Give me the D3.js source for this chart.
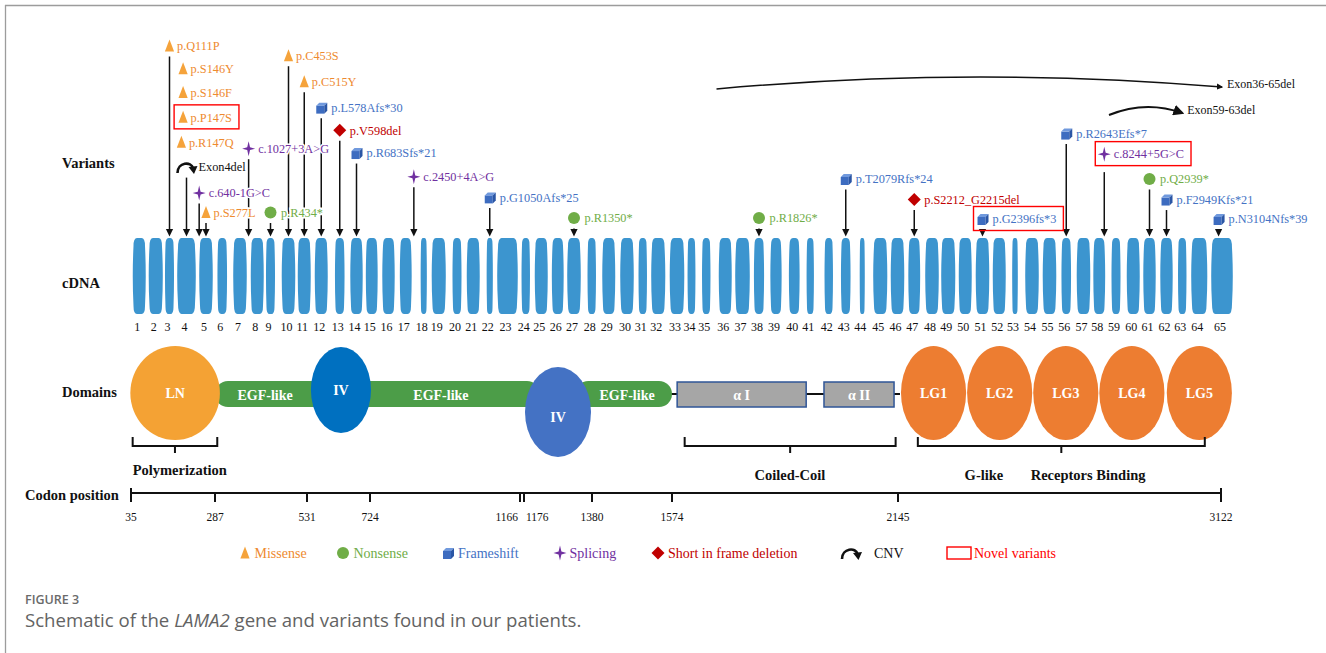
<!DOCTYPE html>
<html><head><meta charset="utf-8">
<script src="https://cdn.jsdelivr.net/npm/d3@7"></script>
<style>html,body{margin:0;padding:0;background:#fff;}svg{display:block;}</style>
</head><body>
<svg id="chart" width="1326" height="653"></svg>
<script>
// ================= DATA =================
const exonNumbers = d3.range(1, 66);
// exon extents in drawing units along the cDNA (0..1100)
const exonStart = [0.5,16.5,32.5,45,67,85,101,118.5,133.5,149.5,165.5,182.5,202.5,218,233.5,250,267.5,288,299.5,320,334.5,354,365,389,402.5,419.5,435,455,470,488,506,519,537.5,555,569.5,586.5,603,621.5,638,656.5,674,692,708.5,727,741,758.5,776,793,809,826.5,843.5,860.5,879.5,893,910.5,929,944.5,961,979,994.5,1011,1028,1045.5,1059,1079];
const exonEnd   = [12,29,40.5,62,79,93.5,113,130,141.5,161.5,177,194,211,229,244,261,278,293.5,312,328,346,359.5,384,396.5,414,430,447,462.5,481.5,500,513.5,531.5,550.5,562,577,598,616,630.5,648,666,680.5,699.5,717,731.5,753.5,770.5,786.5,805,821.5,838,855.5,872,884.5,905,922.5,937.5,956.5,971.5,987,1006,1022,1039,1053,1073.5,1099];

// variants: label, type, exon position (fractional = intronic), stacking tier, novel flag, own arrow
const variantLabels = ["p.Q111P","p.S146Y","p.S146F","p.P147S","p.R147Q","Exon4del","c.640-1G>C","p.S277L","c.1027+3A>G","p.R434*","p.C453S","p.C515Y","p.L578Afs*30","p.V598del","p.R683Sfs*21","c.2450+4A>G","p.G1050Afs*25","p.R1350*","p.R1826*","p.T2079Rfs*24","p.S2212_G2215del","p.G2396fs*3","p.R2643Efs*7","c.8244+5G>C","p.Q2939*","p.F2949Kfs*21","p.N3104Nfs*39"];
const variantTypes = ["missense","missense","missense","missense","missense","cnv","splicing","missense","splicing","nonsense","missense","missense","frameshift","deletion","frameshift","splicing","frameshift","nonsense","nonsense","frameshift","deletion","frameshift","frameshift","splicing","nonsense","frameshift","frameshift"];
const variantExon = [3,3.8,3.8,3.8,3.7,4,4.65,5,7.5,9,10,11,12,13,14,17.45,22,27,38,43,47,51,56,58.3,61,62,64.85];
const variantTier = [0,2.1,4.3,6.6,8.9,11.2,13.6,15.4,9.5,15.4,0.9,3.3,5.7,7.8,9.9,12.1,14.0,15.9,15.9,12.3,14.2,16.0,8.1,10.0,12.3,14.2,16.0];
const variantNovel = [0,0,0,1,0,0,0,0,0,0,0,0,0,0,0,0,0,0,0,0,0,1,0,1,0,0,0];
const variantArrow = [1,0,0,0,0,1,1,1,1,1,1,1,1,1,1,1,1,1,1,1,1,1,1,1,1,1,1];

// large CNVs
const cnvLabels = ["Exon36-65del","Exon59-63del"];
const cnvFrom = [36,59];
const cnvTo = [65,63];

// codon positions (axis ticks)
const codonTicks = [35,287,531,724,1166,1176,1380,1574,2145,3122];

// protein domains (codon extents)
const domains = [
  {name:"EGF-like", shape:"bar",     from:287,  to:600,  label:420},
  {name:"EGF-like", shape:"bar",     from:680,  to:1224, label:933},
  {name:"EGF-like", shape:"bar",     from:1330, to:1574, label:1465},
  {name:"LN",       shape:"ellipse", from:33,   to:300},
  {name:"IV",       shape:"ellipse", from:543,  to:727},
  {name:"IV",       shape:"ellipse", from:1179, to:1377, low:true},
  {name:"α I",      shape:"box",     from:1587, to:1913},
  {name:"α II",     shape:"box",     from:1958, to:2135},
  {name:"LG1",      shape:"ellipse", from:2154, to:2351},
  {name:"LG2",      shape:"ellipse", from:2354, to:2551},
  {name:"LG3",      shape:"ellipse", from:2554, to:2751},
  {name:"LG4",      shape:"ellipse", from:2754, to:2951},
  {name:"LG5",      shape:"ellipse", from:2958, to:3155}
];
const brackets = [
  {from:40, to:293, labels:[{text:"Polymerization", at:40, anchor:"start"}]},
  {from:1606, to:2139, labels:[{text:"Coiled-Coil", at:1872, anchor:"middle"}]},
  {from:2205, to:3073, labels:[{text:"G-like", at:2405, anchor:"middle"},{text:"Receptors Binding", at:2720, anchor:"middle"}]}
];

const legendLabels = ["Missense","Nonsense","Frameshift","Splicing","Short in frame deletion","CNV","Novel variants"];
const legendTypes = ["missense","nonsense","frameshift","splicing","deletion","cnv","novel"];

// ================= STYLE / LAYOUT =================
const SERIF = "'Liberation Serif','Times New Roman',serif";
const textColor = {missense:"#ee8a2f", nonsense:"#70ad47", frameshift:"#4472c4", splicing:"#7030a0", deletion:"#c00000", cnv:"#111", novel:"#ff0000"};
const textGap = {missense:7.5, nonsense:10.5, frameshift:10, splicing:9.5, deletion:10, cnv:12, novel:16};
const EX_TOP = 238, EX_BOT = 314;

const svg = d3.select("#chart");

// frame
svg.append("line").attr("x1",5.5).attr("y1",5).attr("x2",5.5).attr("y2",653).attr("stroke","#9c9c9c").attr("stroke-width",1.3);
svg.append("line").attr("x1",5).attr("y1",5.5).attr("x2",1326).attr("y2",5.5).attr("stroke","#9c9c9c").attr("stroke-width",1.3);

// scales
const xg = d3.scaleLinear().domain([0,1100]).range([133,1233]);
const yTier = d3.scaleLinear().domain([0,16]).range([46,219]);
const codon = d3.scaleLinear().domain(codonTicks).range([131,215,307,370,520,524,592,672,898,1221]);
const exonCenter = i => xg((exonStart[i-1]+exonEnd[i-1])/2);
const posAt = e => { const i=Math.floor(e), f=e-i; const c=exonCenter(i); return f ? c + f*(exonCenter(i+1)-c) : c; };

// row titles
const titles = [["Variants",62,168],["cDNA",62,288],["Domains",62,397],["Codon position",25,500]];
svg.selectAll("text.title").data(titles).enter().append("text")
  .attr("x",d=>d[1]).attr("y",d=>d[2]).text(d=>d[0])
  .attr("font-family",SERIF).attr("font-weight","bold").attr("font-size",14.5).attr("fill","#111");

// ---------- exons ----------
function exonPath(x0,x1,t,b){
  const w=x1-x0, c=Math.min(3.5,w/2.6), k=Math.min(10,4+w*0.35), bl=Math.min(1.6,w*0.13), m=(t+b)/2;
  return `M${x0+c},${t} L${x1-c},${t} Q${x1},${t} ${x1},${t+k} Q${x1+bl},${m} ${x1},${b-k} Q${x1},${b} ${x1-c},${b} L${x0+c},${b} Q${x0},${b} ${x0},${b-k} Q${x0-bl},${m} ${x0},${t+k} Q${x0},${t} ${x0+c},${t} Z`;
}
const gEx = svg.append("g");
gEx.selectAll("path").data(exonNumbers).enter().append("path")
  .attr("d",n=>exonPath(xg(exonStart[n-1]),xg(exonEnd[n-1]),EX_TOP,EX_BOT))
  .attr("fill","#3c95cf");
gEx.selectAll("text").data(exonNumbers).enter().append("text")
  .attr("x",n=>exonCenter(n)-2).attr("y",331).attr("text-anchor","middle")
  .attr("font-family",SERIF).attr("font-size",12).attr("fill","#111").text(n=>n);

// ---------- icons ----------
function drawIcon(g,type,x,y){
  if(type==="missense"){
    g.append("path").attr("d",`M${x},${y-6.5} L${x+4.6},${y+5.5} L${x-4.6},${y+5.5} Z`).attr("fill","#f5a33b");
  } else if(type==="nonsense"){
    g.append("circle").attr("cx",x).attr("cy",y).attr("r",6).attr("fill","#70ad47");
  } else if(type==="frameshift"){
    g.append("path").attr("d",`M${x-5},${y-2} h8 v8 h-8 Z`).attr("fill","#3d6cc0");
    g.append("path").attr("d",`M${x-5},${y-2} l3,-3 h8 l-3,3 Z`).attr("fill","#7099dd");
    g.append("path").attr("d",`M${x+3},${y-2} l3,-3 v8 l-3,3 Z`).attr("fill","#2b56a5");
  } else if(type==="splicing"){
    g.append("path").attr("d",`M${x},${y-7.5} L${x+1.4},${y-1.4} L${x+6.5},${y} L${x+1.4},${y+1.4} L${x},${y+7.5} L${x-1.4},${y+1.4} L${x-6.5},${y} L${x-1.4},${y-1.4} Z`).attr("fill","#7030a0");
  } else if(type==="deletion"){
    g.append("path").attr("d",`M${x},${y-6.5} L${x+6.5},${y} L${x},${y+6.5} L${x-6.5},${y} Z`).attr("fill","#c00000");
  } else if(type==="cnv"){
    g.append("path").attr("d",`M${x-9},${y+6} C${x-9},${y-5} ${x+5},${y-6} ${x+6.5},${y+1}`).attr("fill","none").attr("stroke","#111").attr("stroke-width",2.6);
    g.append("path").attr("d",`M${x+2},${y} L${x+11},${y-1} L${x+7.5},${y+7} Z`).attr("fill","#111");
  } else if(type==="novel"){
    g.append("rect").attr("x",x-11).attr("y",y-6).attr("width",24).attr("height",12).attr("fill","none").attr("stroke","#ff0000").attr("stroke-width",1.4);
  }
}

// ---------- variants ----------
const variants = variantLabels.map((label,i)=>({label, type:variantTypes[i], exon:variantExon[i], tier:variantTier[i], novel:!!variantNovel[i], arrow:!!variantArrow[i]}));
const gArrows = svg.append("g"), gVar = svg.append("g");
variants.forEach(v=>{
  const x = posAt(v.exon), y = yTier(v.tier);
  if(v.arrow){
    const y1 = y + (v.novel ? 18 : 10.5);
    if(y1 < 230) gArrows.append("line").attr("x1",x).attr("x2",x).attr("y1",y1).attr("y2",231).attr("stroke","#111").attr("stroke-width",1.5);
    gArrows.append("path").attr("d",`M${x-3.6},${229} L${x+3.6},${229} L${x},${236.5} Z`).attr("fill","#111");
  }
  const g = gVar.append("g");
  drawIcon(g,v.type,x,y);
  const t = g.append("text").attr("x",x+textGap[v.type]).attr("y",y+4.3).text(v.label)
    .attr("font-family",SERIF).attr("font-size",12.3).attr("fill",textColor[v.type])
    .attr("stroke","#fff").attr("stroke-width",3).attr("paint-order","stroke");
  if(v.novel){
    const w = t.node().getComputedTextLength();
    g.append("rect").attr("x",x-9).attr("y",y-12.5).attr("width",textGap[v.type]+w+16).attr("height",24)
      .attr("fill","none").attr("stroke","#ff0000").attr("stroke-width",1.4);
  }
});

// large CNV arcs
const defs = svg.append("defs");
[["ah1",4],["ah2",5.5]].forEach(([id,s])=>{
  defs.append("marker").attr("id",id).attr("viewBox","0 0 10 10").attr("refX",8).attr("refY",5)
    .attr("markerWidth",s).attr("markerHeight",s).attr("orient","auto")
    .append("path").attr("d","M0,0 L10,5 L0,10 Z").attr("fill","#111");
});
const arcRise = [22,14];
const arcBase = [88,114];
cnvLabels.forEach((lab,i)=>{
  const xs = xg(exonStart[cnvFrom[i]-1]) - 3, xe = exonCenter(cnvTo[i]);
  const ys = arcBase[i]+1, ye = arcBase[i]-1;
  svg.append("path").attr("d",`M${xs},${ys} Q${(xs+xe)/2},${arcBase[i]-arcRise[i]} ${xe},${ye}`)
    .attr("fill","none").attr("stroke","#111").attr("stroke-width",i?2:1.6).attr("marker-end",`url(#ah${i+1})`);
  svg.append("text").attr("x",xe+5).attr("y",ye+1).text(lab)
    .attr("font-family",SERIF).attr("font-size",12).attr("fill","#111");
});

// ---------- domains ----------
const DY = 394;
const gDom = svg.append("g");
gDom.append("line").attr("x1",codon(1574)-2).attr("x2",codon(2151)).attr("y1",DY).attr("y2",DY).attr("stroke","#111").attr("stroke-width",2);
const fillOf = d => d.name==="LN" ? "#f4a234" : d.name==="IV" ? (d.low ? "#4472c4" : "#0070c0") : d.name.startsWith("LG") ? "#ed7d31" : d.name==="EGF-like" ? "#4c9d48" : "#a6a6a6";
domains.filter(d=>d.shape==="bar").forEach(d=>{
  gDom.append("rect").attr("x",codon(d.from)).attr("y",DY-13).attr("width",codon(d.to)-codon(d.from)).attr("height",26)
    .attr("rx",13).attr("fill",fillOf(d));
});
domains.filter(d=>d.shape==="ellipse").forEach(d=>{
  const cx=(codon(d.from)+codon(d.to))/2, rx=(codon(d.to)-codon(d.from))/2;
  const ry = d.name==="IV" ? (d.low ? 45 : 43) : 47;
  const cy = d.name==="IV" ? (d.low ? 412 : 390) : 393;
  gDom.append("ellipse").attr("cx",cx).attr("cy",cy).attr("rx",rx).attr("ry",ry).attr("fill",fillOf(d));
  gDom.append("text").attr("x",cx).attr("y",cy+ (d.low?10:4.5)).attr("text-anchor","middle").text(d.name)
    .attr("font-family",SERIF).attr("font-weight","bold").attr("font-size",14).attr("fill","#fff");
});
domains.filter(d=>d.shape==="box").forEach(d=>{
  gDom.append("rect").attr("x",codon(d.from)).attr("y",DY-12).attr("width",codon(d.to)-codon(d.from)).attr("height",25)
    .attr("fill","#a6a6a6").attr("stroke","#2f5597").attr("stroke-width",1.5);
  gDom.append("text").attr("x",(codon(d.from)+codon(d.to))/2).attr("y",DY+5.5).attr("text-anchor","middle").text(d.name)
    .attr("font-family",SERIF).attr("font-weight","bold").attr("font-size",14).attr("fill","#fff");
});
domains.filter(d=>d.shape==="bar").forEach(d=>{
  gDom.append("text").attr("x",codon(d.label)).attr("y",DY+5.5).attr("text-anchor","middle").text(d.name)
    .attr("font-family",SERIF).attr("font-weight","bold").attr("font-size",14).attr("fill","#fff");
});

// brackets
brackets.forEach(b=>{
  const x0=codon(b.from), x1=codon(b.to), xc=(x0+x1)/2;
  gDom.append("path").attr("d",`M${x0},437 V446 H${x1} V437 M${xc},446 V453`)
    .attr("fill","none").attr("stroke","#111").attr("stroke-width",2);
  b.labels.forEach(l=>{
    gDom.append("text").attr("x",codon(l.at)).attr("y",b.from<100?475:480).attr("text-anchor",l.anchor).text(l.text)
      .attr("font-family",SERIF).attr("font-weight","bold").attr("font-size",14.5).attr("fill","#111");
  });
});

// ---------- codon axis ----------
const AY = 493;
const gAx = svg.append("g");
gAx.append("line").attr("x1",codon(35)).attr("x2",codon(3122)).attr("y1",AY).attr("y2",AY).attr("stroke","#111").attr("stroke-width",2.2);
codonTicks.forEach((c,i)=>{
  const end = i===0 || i===codonTicks.length-1;
  gAx.append("line").attr("x1",codon(c)).attr("x2",codon(c)).attr("y1",end?488:AY).attr("y2",502).attr("stroke","#111").attr("stroke-width",2);
  const anchor = c===1166 ? "end" : c===1176 ? "start" : "middle";
  const dx = c===1166 ? -2 : c===1176 ? 2 : 0;
  gAx.append("text").attr("x",codon(c)+dx).attr("y",521).attr("text-anchor",anchor).text(c)
    .attr("font-family",SERIF).attr("font-size",11.5).attr("fill","#111");
});

// ---------- legend ----------
const legendX = [245,343,448,560,658,851,958];
const LY = 553;
legendLabels.forEach((lab,i)=>{
  const g = svg.append("g");
  const type = legendTypes[i];
  drawIcon(g,type,legendX[i],LY);
  g.append("text").attr("x",legendX[i]+textGap[type]+ (type==="cnv"?11:type==="missense"?2:0)).attr("y",LY+4.5).text(lab)
    .attr("font-family",SERIF).attr("font-size",14).attr("fill",textColor[type]);
});

// ---------- caption ----------
svg.append("text").attr("x",25).attr("y",604).text("FIGURE 3")
  .attr("font-family","'Open Sans',sans-serif").attr("font-weight",600).attr("font-size",12.5).attr("fill","#6a6a6a");
const cap = svg.append("text").attr("x",25).attr("y",627)
  .attr("font-family","'Open Sans',sans-serif").attr("font-size",18.6).attr("fill","#636363");
cap.append("tspan").text("Schematic of the ");
cap.append("tspan").attr("font-style","italic").text("LAMA2");
cap.append("tspan").text(" gene and variants found in our patients.");
</script>
</body></html>
